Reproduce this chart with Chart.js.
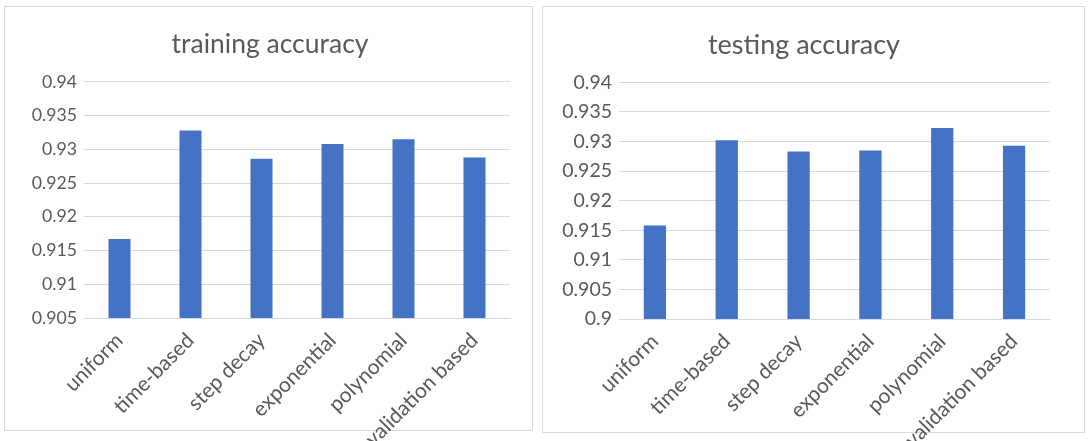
<!DOCTYPE html>
<html>
<head>
<meta charset="utf-8">
<script src="https://cdn.jsdelivr.net/npm/chart.js@4/dist/chart.umd.min.js"></script>
<style>
  body { margin: 0; background: #fff; width: 1089px; height: 441px; overflow: hidden; position: relative; }
  .frame { position: absolute; border: 1px solid #d9d9d9; box-sizing: border-box; pointer-events: none; }
  .holder { position: absolute; top: 0; height: 441px; }
</style>
</head>
<body>
<div class="frame" style="left:4px; top:6px; width:529px; height:425px;"></div>
<div class="frame" style="left:542px; top:6px; width:543px; height:427px;"></div>
<div class="holder" style="left:0; width:537px;"><canvas id="trainChart" width="537" height="441"></canvas></div>
<div class="holder" style="left:540px; width:549px;"><canvas id="testChart" width="549" height="441"></canvas></div>
<script>
const categories = ['uniform', 'time-based', 'step decay', 'exponential', 'polynomial', 'validation based'];
const trainAccuracy = [0.9167, 0.9328, 0.9286, 0.9308, 0.9315, 0.9288];
const testAccuracy = [0.9158, 0.9302, 0.9283, 0.9285, 0.9323, 0.9293];
const trainTicks = [0.905, 0.91, 0.915, 0.92, 0.925, 0.93, 0.935, 0.94];
const testTicks = [0.9, 0.905, 0.91, 0.915, 0.92, 0.925, 0.93, 0.935, 0.94];

const FONT = 'Lato, "Open Sans", sans-serif';
const TEXT = '#595959';
const GRID = '#d9d9d9';

// builds one bar chart; plot box is pinned with afterFit so both match the picture
// (left padding shifts the centred title, y axis width keeps the plot edge in place)
const makeChart = (id, title, values, ticks, box, sizes) => {
  const ctx = document.getElementById(id).getContext('2d');
  return new Chart(ctx, {
    type: 'bar',
    data: {
      labels: categories,
      datasets: [{
        data: values,
        backgroundColor: '#4472C4',
        borderWidth: 0,
        barPercentage: 0.31,
        categoryPercentage: 1
      }]
    },
    options: {
      responsive: false,
      animation: false,
      layout: { padding: { top: box.top, left: box.padLeft, right: box.right, bottom: 0 } },
      plugins: {
        legend: { display: false },
        tooltip: { enabled: false },
        title: {
          display: true,
          text: title,
          color: TEXT,
          font: { family: FONT, size: sizes.title, weight: 'normal' },
          padding: { top: 0, bottom: box.titleGap }
        }
      },
      scales: {
        x: {
          grid: { display: false },
          border: { color: GRID },
          ticks: {
            color: TEXT,
            font: { family: FONT, size: sizes.x },
            minRotation: 45,
            maxRotation: 45,
            autoSkip: false,
            padding: 2
          },
          afterFit: (scale) => { scale.height = box.xHeight; }
        },
        y: {
          min: ticks[0],
          max: ticks[ticks.length - 1],
          grid: { color: GRID, drawTicks: false },
          border: { display: false },
          ticks: {
            color: TEXT,
            font: { family: FONT, size: sizes.y },
            padding: 7,
            callback: (v) => String(Number(v.toFixed(3)))
          },
          afterBuildTicks: (scale) => { scale.ticks = ticks.map(v => ({ value: v })); },
          afterFit: (scale) => { scale.width = box.left - box.padLeft; }
        }
      }
    }
  });
};

makeChart('trainChart', 'training accuracy', trainAccuracy, trainTicks,
  { top: 29, padLeft: 30, right: 27, left: 84, titleGap: 21, xHeight: 123 },
  { title: 26.5, x: 21, y: 17.7 });
makeChart('testChart', 'testing accuracy', testAccuracy, testTicks,
  { top: 29, padLeft: 18, right: 39, left: 79, titleGap: 21, xHeight: 122 },
  { title: 27, x: 21, y: 19.5 });
</script>
</body>
</html>
